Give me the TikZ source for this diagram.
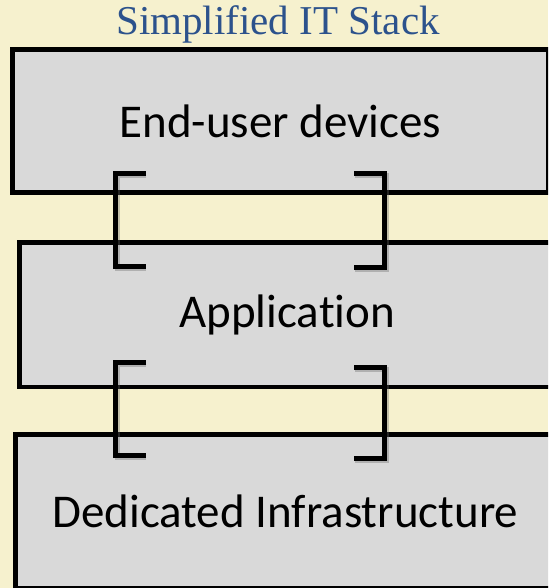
\documentclass[tikz,border=0pt]{standalone}
\usepackage{fontspec}
\setmainfont{Carlito}[Ligatures=NoCommon]
\newfontfamily\titlefont{Liberation Serif}
\definecolor{bgcream}{RGB}{246,241,206}
\definecolor{boxgrey}{RGB}{217,217,217}
\definecolor{titleblue}{RGB}{44,82,140}
\begin{document}
\begin{tikzpicture}[x=1pt,y=-1pt,
  layerbox/.style={draw=black,line width=4.5pt,fill=boxgrey,rectangle,anchor=north west,inner sep=0pt,
     font=\fontsize{47}{56}\selectfont},
  brk/.style={draw=black,line width=5pt,line cap=butt,line join=miter},
  brkshadow/.style={draw=black!60,line width=5pt,opacity=0.35,line join=miter}]
\useasboundingbox (0,0) rectangle (548,588);
\fill[bgcream] (0,0) rectangle (548,588);
\begin{scope}
\clip (0,0) rectangle (548,588);
\node[text=titleblue,font=\titlefont\fontsize{41}{48}\selectfont,anchor=base] (title) at (278,35) {Simplified IT Stack};
\node[layerbox,minimum width=536pt,minimum height=142.5pt] (b1) at (10,47.5) {End-user devices};
\node[layerbox,minimum width=536pt,minimum height=144.5pt] (b2) at (17,240) {Application};
\node[layerbox,minimum width=540pt,minimum height=153.5pt] (b3) at (13,432) {Dedicated Infrastructure};
% shadows
\draw[brkshadow] (146,175.5) -- (117,175.5) -- (117,268) -- (146,268);
\draw[brkshadow] (355,175.5) -- (386,175.5) -- (386,269) -- (355,269);
\draw[brkshadow] (146,364.5) -- (117,364.5) -- (117,457) -- (146,457);
\draw[brkshadow] (355,369.5) -- (386,369.5) -- (386,460) -- (355,460);
% brackets linking the layers
\coordinate (l1t) at (146,173);
\coordinate (l1b) at (146,266);
\coordinate (r1t) at (354,173);
\coordinate (r1b) at (354,267);
\coordinate (l2t) at (146,362);
\coordinate (l2b) at (146,455);
\coordinate (r2t) at (354,367);
\coordinate (r2b) at (354,458);
\draw[brk] (l1t) -- (115,173) -- (115,266) -- (l1b);
\draw[brk] (r1t) -- (384,173) -- (384,267) -- (r1b);
\draw[brk] (l2t) -- (115,362) -- (115,455) -- (l2b);
\draw[brk] (r2t) -- (384,367) -- (384,458) -- (r2b);
\end{scope}
\end{tikzpicture}
\end{document}
